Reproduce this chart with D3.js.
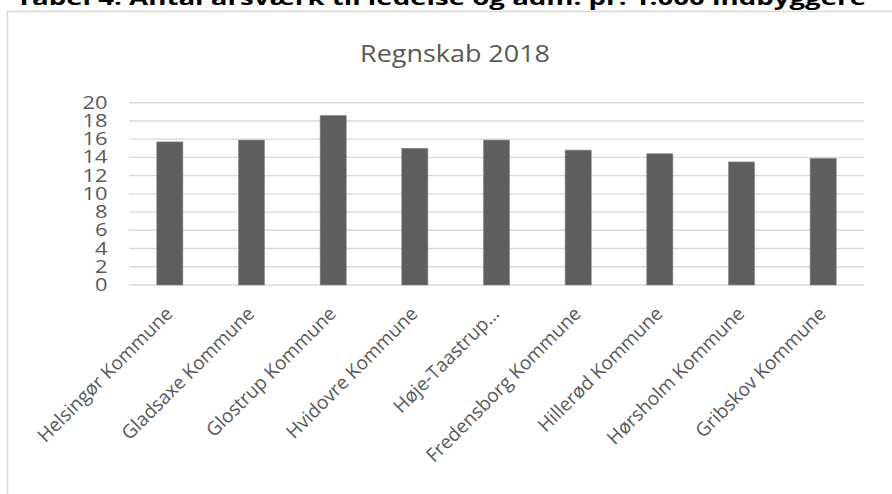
<!DOCTYPE html>
<html>
<head>
<meta charset="utf-8">
<script src="https://cdn.jsdelivr.net/npm/d3@7"></script>
<style>
  html, body { margin: 0; padding: 0; background: #fff; }
  svg { display: block; }
</style>
</head>
<body>
<svg id="chart" width="892" height="494"></svg>
<script>
// Antal årsværk pr. 1.000 indbyggere, regnskab 2018
const categories = [
  "Helsingør Kommune", "Gladsaxe Kommune", "Glostrup Kommune",
  "Hvidovre Kommune", "Høje-Taastrup…", "Fredensborg Kommune",
  "Hillerød Kommune", "Hørsholm Kommune", "Gribskov Kommune"
];
const values = [15.7, 15.9, 18.6, 15.0, 15.9, 14.8, 14.4, 13.5, 13.9];
const yTicks = [0, 2, 4, 6, 8, 10, 12, 14, 16, 18, 20];
const tableTitle = "Tabel 4. Antal årsværk til ledelse og adm. pr. 1.000 indbyggere";
const chartTitle = "Regnskab 2018";

const svg = d3.select("#chart");
const textColor = "#595959";
const font = "Open Sans, sans-serif";

// caption above the chart frame (clipped by the top edge)
svg.append("text")
  .attr("x", 16).attr("y", 5)
  .attr("font-family", font)
  .attr("font-weight", 700)
  .attr("font-size", 20)
  .attr("fill", "#000")
  .attr("textLength", 850)
  .attr("lengthAdjust", "spacingAndGlyphs")
  .text(tableTitle);

// chart frame
svg.append("rect")
  .attr("x", 7.5).attr("y", 11.5)
  .attr("width", 900).attr("height", 500)
  .attr("fill", "#fff")
  .attr("stroke", "#d9d9d9")
  .attr("stroke-width", 1.5);

svg.append("text")
  .attr("x", 455).attr("y", 62)
  .attr("text-anchor", "middle")
  .attr("font-family", font)
  .attr("font-size", 24)
  .attr("fill", textColor)
  .attr("textLength", 190)
  .attr("lengthAdjust", "spacingAndGlyphs")
  .text(chartTitle);

const plot = { left: 129, right: 864, top: 102.7, bottom: 285 };

const x = d3.scaleBand()
  .domain(categories)
  .range([plot.left, plot.right])
  .paddingInner(0.68)
  .paddingOuter(0.34);

const y = d3.scaleLinear()
  .domain([0, 20])
  .range([plot.bottom, plot.top]);

// horizontal gridlines
svg.append("g")
  .selectAll("line")
  .data(yTicks)
  .join("line")
  .attr("x1", plot.left).attr("x2", plot.right)
  .attr("y1", d => y(d)).attr("y2", d => y(d))
  .attr("stroke", "#d9d9d9")
  .attr("stroke-width", 1.4);

// y axis labels (slightly widened digits)
const yAxis = d3.axisLeft(y).tickValues(yTicks).tickSize(0).tickPadding(0);
const gy = svg.append("g")
  .attr("transform", `translate(107.5,0) scale(1.25,1)`)
  .call(yAxis);
gy.select(".domain").remove();
gy.selectAll("text")
  .attr("font-family", font)
  .attr("font-size", 17.5)
  .attr("fill", textColor);

// bars
svg.append("g")
  .selectAll("rect")
  .data(values)
  .join("rect")
  .attr("x", (d, i) => x(categories[i]))
  .attr("y", d => y(d))
  .attr("width", x.bandwidth())
  .attr("height", d => y(0) - y(d))
  .attr("fill", "#5e5e5e")
  .attr("stroke", "#8c8c8c")
  .attr("stroke-width", 0.6);

// rotated category labels
const xAxis = d3.axisBottom(x).tickSize(0).tickPadding(0);
const gx = svg.append("g")
  .attr("transform", `translate(0,${plot.bottom})`)
  .call(xAxis);
gx.select(".domain").remove();
gx.selectAll(".tick text")
  .attr("font-family", font)
  .attr("font-size", 19)
  .attr("fill", textColor)
  .attr("text-anchor", "end")
  .attr("dy", null)
  .attr("y", 0)
  .attr("transform", "translate(4,30) rotate(-45)");
</script>
</body>
</html>
